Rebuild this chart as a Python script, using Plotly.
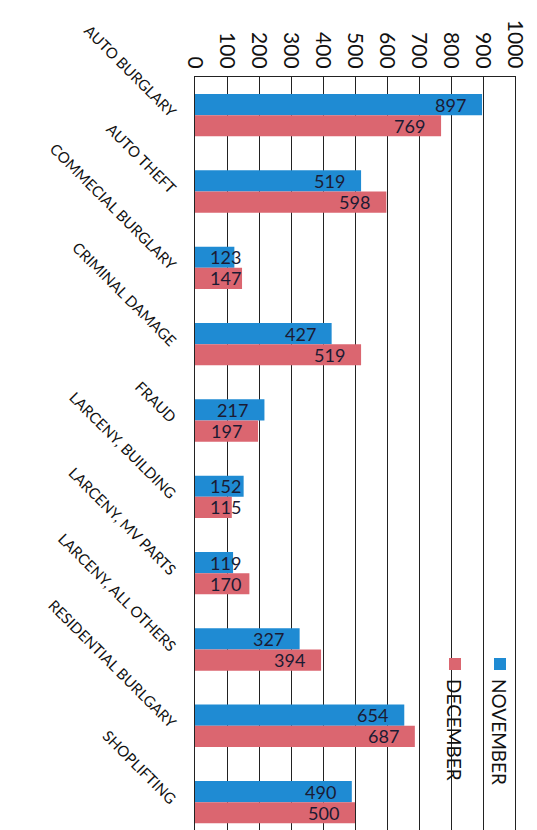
import plotly.graph_objects as go

categories = ["AUTO BURGLARY", "AUTO THEFT", "COMMECIAL BURGLARY", "CRIMINAL DAMAGE",
              "FRAUD", "LARCENY, BUILDING", "LARCENY, MV PARTS", "LARCENY, ALL OTHERS",
              "RESIDENTIAL BURLGARY", "SHOPLIFTING"]
november = [897, 519, 123, 427, 217, 152, 119, 327, 654, 490]
december = [769, 598, 147, 519, 197, 115, 170, 394, 687, 500]
x_ticks = [0, 100, 200, 300, 400, 500, 600, 700, 800, 900, 1000]
series_names = ["NOVEMBER", "DECEMBER"]

BLUE = "#1F8BD3"
RED = "#DB6670"
LABEL = "#1b1b33"

fig = go.Figure()
for name, vals, col in [(series_names[0], november, BLUE), (series_names[1], december, RED)]:
    fig.add_trace(go.Bar(
        y=categories, x=vals, orientation="h", name=name,
        marker=dict(color=col, line=dict(width=0)),
        showlegend=False,
    ))

L, R, T = 187, 30, 69
fig.update_layout(
    width=537, height=830,
    margin=dict(l=L, r=R, t=T, b=0, autoexpand=False),
    paper_bgcolor="white", plot_bgcolor="white",
    barmode="group", bargap=0.445, bargroupgap=0,
    font=dict(family="Lato", color="#111111"),
    xaxis=dict(
        side="top", range=[0, 1000], tickvals=x_ticks, ticktext=[str(t) for t in x_ticks],
        tickangle=90, tickfont=dict(family="Lato", size=21, color="#111111"),
        showgrid=True, gridcolor="#222222", gridwidth=1.2,
        showline=True, linecolor="#222222", linewidth=1.2, mirror=True,
        zeroline=False, ticks="", ticklen=0, automargin=False,
    ),
    yaxis=dict(
        categoryorder="array", categoryarray=categories,
        range=[9.47, -0.5],
        tickangle=45, tickfont=dict(family="Lato", size=15, color="#111111"),
        ticklabelstandoff=16,
        showgrid=False, showline=True, linecolor="#222222", linewidth=1.2, mirror=True,
        ticks="", ticklen=0, zeroline=False, automargin=False,
    ),
)

# Data labels: inside end of each bar (Excel style); small bars get a minimum position
for vals, shift in [(november, 10.5), (december, -10.5)]:
    for cat, v in zip(categories, vals):
        fig.add_annotation(text=str(v), x=max(v - 44, 150), y=cat, xref="x", yref="y",
                           xanchor="right", yanchor="middle", yshift=shift, showarrow=False,
                           font=dict(family="Lato", size=18, color=LABEL))

# Rotated legend drawn with shapes + annotations (positions in screen pixels)
W_PLOT = 537 - L - R
H_PLOT = 830 - T

def px_to_paper(xp, yp):
    return (xp - 8 - L) / W_PLOT, 1 - (yp - 8 - T) / H_PLOT

legend_spec = [(series_names[0], BLUE, 500), (series_names[1], RED, 455)]
for name, col, xc in legend_spec:
    x0, y0 = px_to_paper(xc - 6, 658)
    x1, y1 = px_to_paper(xc + 6, 670)
    fig.add_shape(type="rect", xref="paper", yref="paper", x0=x0, x1=x1, y0=y1, y1=y0,
                  fillcolor=col, line=dict(width=0))
    tx, ty = px_to_paper(xc, 677)
    fig.add_annotation(text=name, xref="paper", yref="paper", x=tx, y=ty,
                       textangle=90, showarrow=False, xanchor="center", yanchor="top",
                       font=dict(family="Lato", size=19, color="#111111"))

fig.write_html("out.html")
